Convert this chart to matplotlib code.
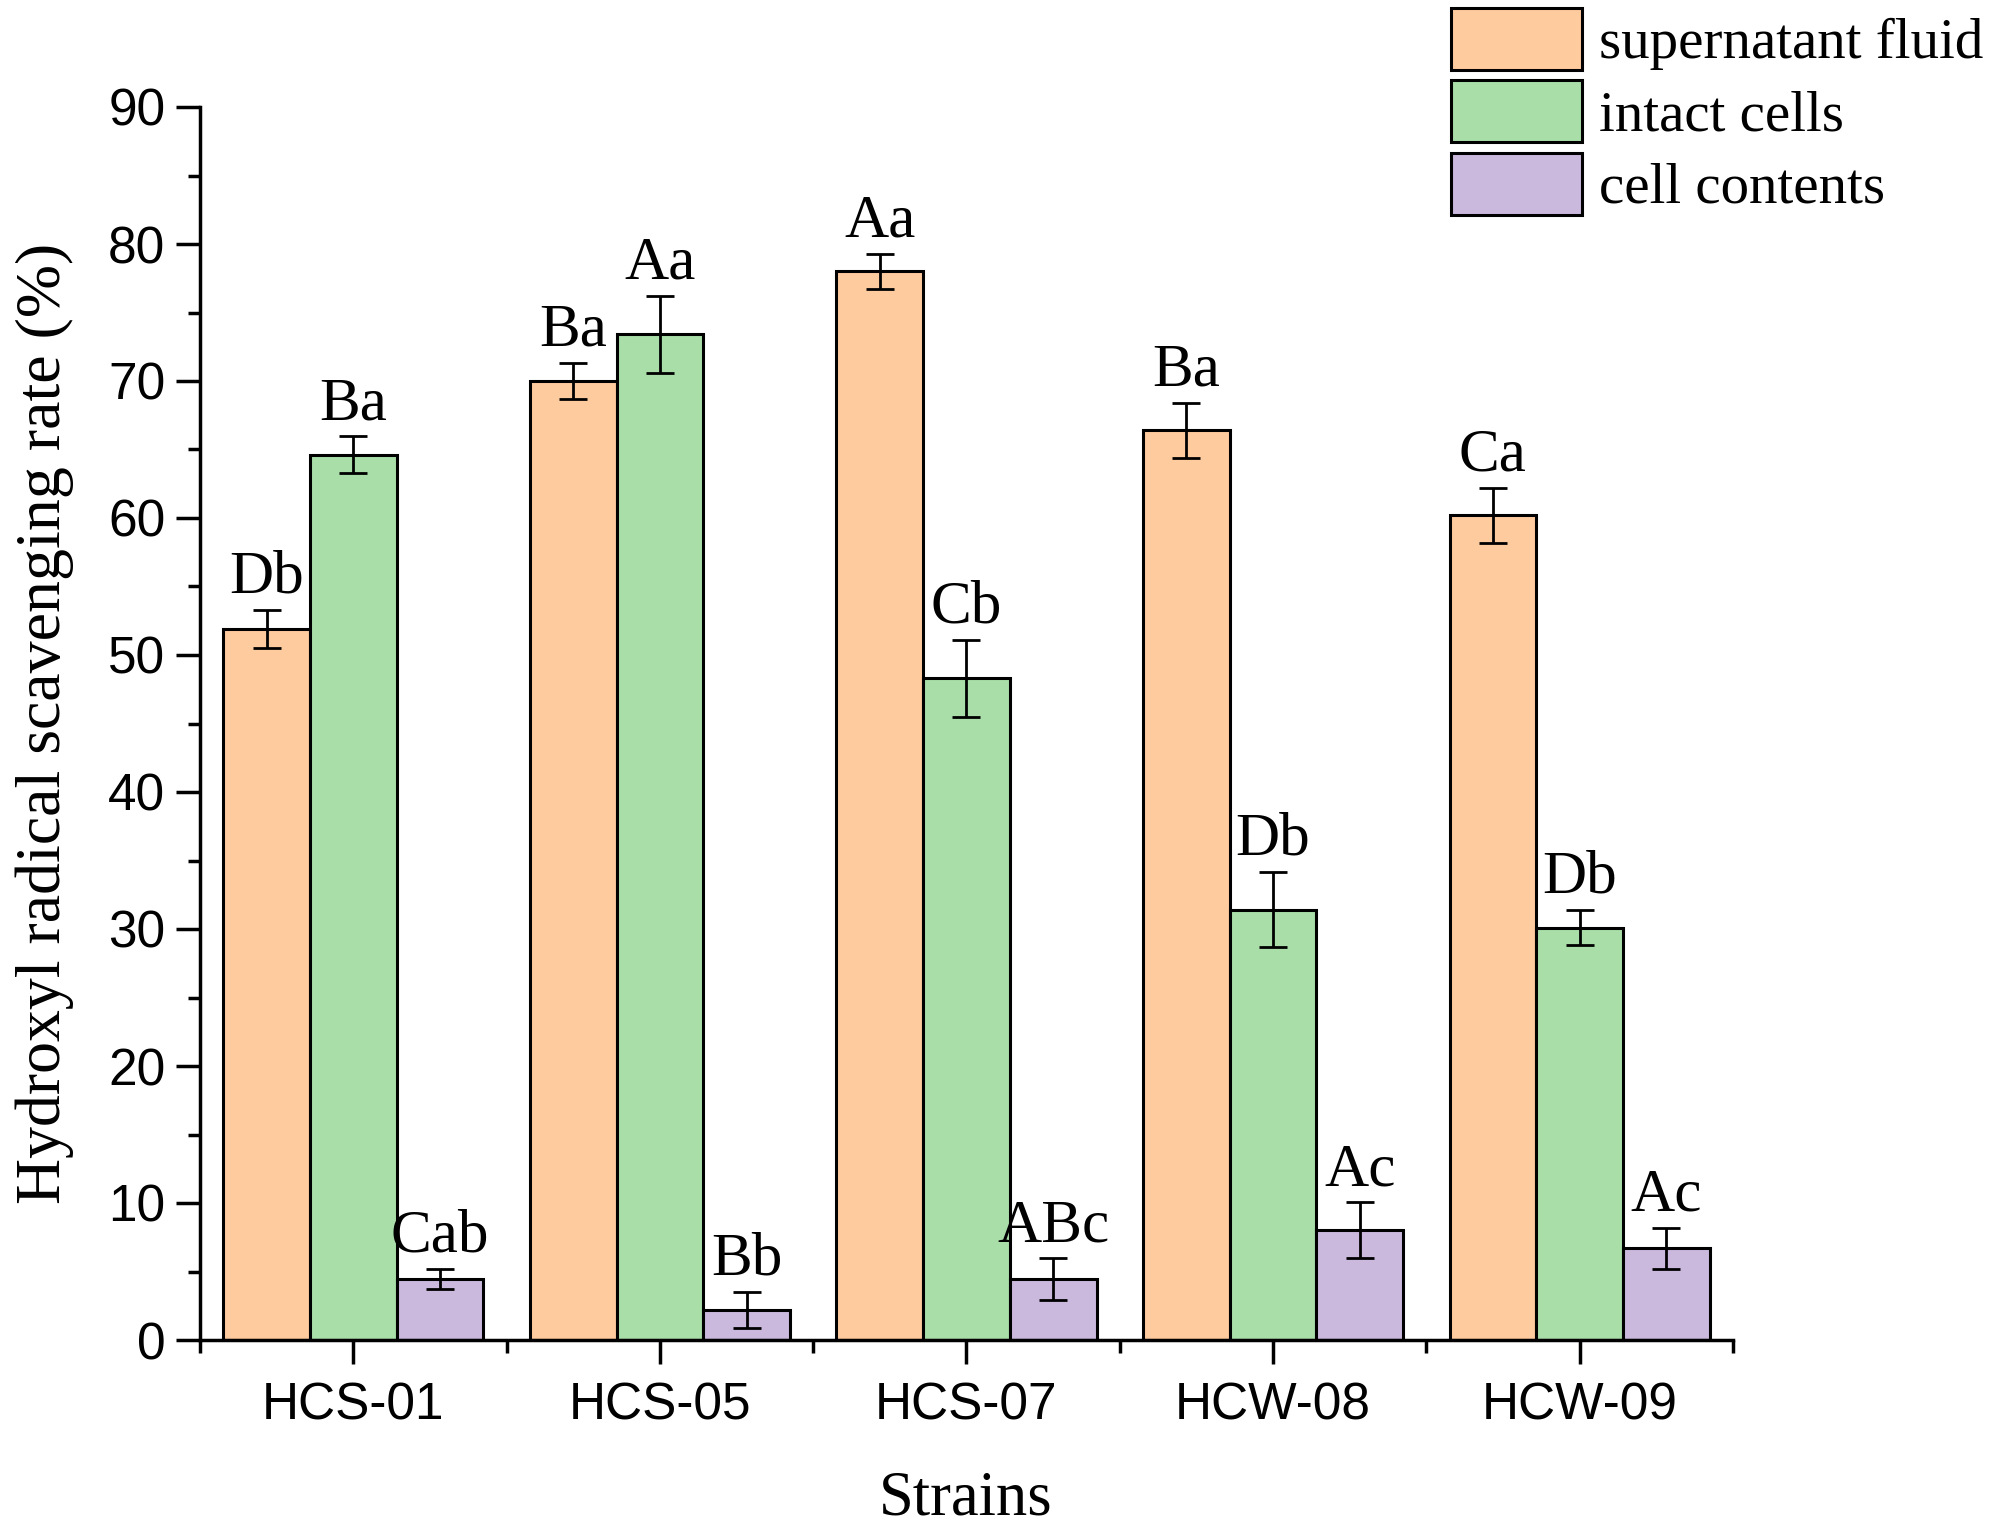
import matplotlib
matplotlib.use("Agg")
import matplotlib.pyplot as plt
import numpy as np
from matplotlib.ticker import MultipleLocator

strains = ["HCS-01", "HCS-05", "HCS-07", "HCW-08", "HCW-09"]
series = ["supernatant fluid", "intact cells", "cell contents"]
colors = ["#FECB9E", "#A9DEA9", "#CAB9DD"]

supernatant = [51.9, 70.0, 78.0, 66.4, 60.2]
supernatant_err = [1.4, 1.35, 1.3, 2.0, 2.0]
intact = [64.6, 73.4, 48.3, 31.4, 30.1]
intact_err = [1.35, 2.8, 2.8, 2.75, 1.3]
contents = [4.45, 2.2, 4.45, 8.0, 6.7]
contents_err = [0.75, 1.3, 1.5, 2.05, 1.5]

letters_sup = ["Db", "Ba", "Aa", "Ba", "Ca"]
letters_int = ["Ba", "Aa", "Cb", "Db", "Db"]
letters_con = ["Cab", "Bb", "ABc", "Ac", "Ac"]

serif = ["Liberation Serif", "DejaVu Serif"]
sans = ["Liberation Sans", "DejaVu Sans"]

fig = plt.figure(figsize=(19.95, 15.33), dpi=100)
ax = fig.add_axes([200 / 1995, 1 - 1340 / 1533, 1533 / 1995, 1233 / 1533])

x = np.arange(len(strains))
w = 0.283
groups = [(supernatant, supernatant_err, letters_sup),
          (intact, intact_err, letters_int),
          (contents, contents_err, letters_con)]
for i, (vals, errs, labs) in enumerate(groups):
    pos = x + (i - 1) * w
    ax.bar(pos, vals, width=w, color=colors[i], edgecolor="black", linewidth=2.2,
           label=series[i], zorder=2)
    ax.errorbar(pos, vals, yerr=errs, fmt="none", ecolor="black", elinewidth=2,
                capsize=10, capthick=2, zorder=3)
    for p, v, e, t in zip(pos, vals, errs, labs):
        ax.annotate(t, (p, v + e), xytext=(0, 3), textcoords="offset points",
                    ha="center", va="bottom", fontsize=44, family=serif)

ax.set_xlim(-0.5, 4.5)
ax.set_ylim(0, 90)
ax.set_xticks(x)
ax.set_xticklabels(strains)
ax.xaxis.set_minor_locator(MultipleLocator(0.5))
ax.yaxis.set_major_locator(MultipleLocator(10))
ax.yaxis.set_minor_locator(MultipleLocator(5))
for s in ["top", "right"]:
    ax.spines[s].set_visible(False)
for s in ["left", "bottom"]:
    ax.spines[s].set_linewidth(2.5)
ax.tick_params(which="major", length=17, width=2.5, direction="out")
ax.tick_params(which="minor", length=9, width=2.5, direction="out")
ax.tick_params(axis="x", which="major", pad=13)
ax.tick_params(axis="y", which="major", pad=8)
for lab in ax.get_xticklabels() + ax.get_yticklabels():
    lab.set_fontsize(37)
    lab.set_family(sans)

fig.text(45 / 1995, 0.5 * ((1 - 107 / 1533) + (1 - 1340 / 1533)),
         "Hydroxyl radical scavenging rate (%)", rotation=90, ha="center",
         va="center", fontsize=46, family=serif)
fig.text(966 / 1995, 0.012, "Strains", ha="center", va="baseline",
         fontsize=45, family=serif)

leg = fig.legend(loc="upper left", bbox_to_anchor=(1451 / 1995, 1 - 8 / 1533),
                 frameon=False, borderpad=0, borderaxespad=0,
                 handlelength=2.3, handleheight=1.3, handletextpad=0.3,
                 labelspacing=0.18, prop={"family": serif, "size": 41})

fig.savefig("out.png", dpi=100)
